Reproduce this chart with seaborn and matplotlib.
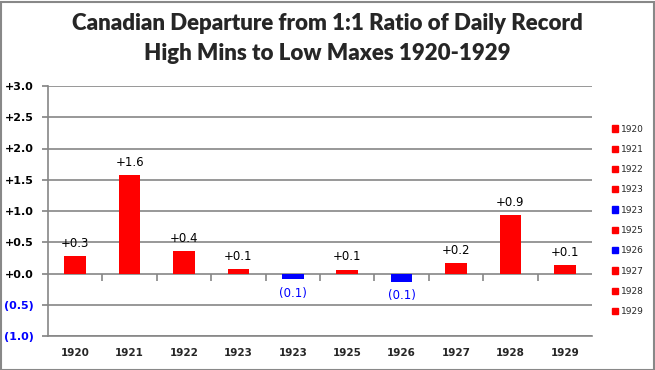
import matplotlib
matplotlib.use("Agg")
import matplotlib.pyplot as plt
from matplotlib.patches import Patch
import seaborn as sns
import numpy as np

years = ["1920", "1921", "1922", "1923", "1923", "1925", "1926", "1927", "1928", "1929"]
values = [0.28, 1.57, 0.36, 0.07, -0.09, 0.06, -0.13, 0.17, 0.94, 0.13]
value_labels = ["+0.3", "+1.6", "+0.4", "+0.1", "(0.1)", "+0.1", "(0.1)", "+0.2", "+0.9", "+0.1"]
yticks = [-1.0, -0.5, 0.0, 0.5, 1.0, 1.5, 2.0, 2.5, 3.0]
ytick_labels = ["(1.0)", "(0.5)", "+0.0", "+0.5", "+1.0", "+1.5", "+2.0", "+2.5", "+3.0"]

RED = "#FF0000"
BLUE = "#0000FF"
GRID = "#868686"
colors = [RED if v >= 0 else BLUE for v in values]

sns.set_theme(style="white")
plt.rcParams['font.family'] = ['DejaVu Sans']

fig = plt.figure(figsize=(6.55, 3.70), dpi=100)
ax = fig.add_axes([48/655, 34/370, 544/655, 250/370])

idx = [str(i) for i in range(len(values))]
sns.barplot(x=idx, y=values, hue=idx, palette=colors, legend=False,
            width=0.4, saturation=1, ax=ax, order=idx, linewidth=0)

ax.set_ylim(-1.0, 3.0)
ax.set_xlim(-0.5, len(values) - 0.5)
ax.set_yticks(yticks)
ax.set_yticklabels(ytick_labels)
for t, v in zip(ax.get_yticklabels(), yticks):
    t.set_fontweight("bold")
    t.set_fontsize(8)
    t.set_color(BLUE if v < 0 else "black")
ax.yaxis.grid(True, color=GRID, linewidth=1.2)
ax.set_axisbelow(True)
ax.tick_params(axis="y", length=4, color=GRID, pad=6, left=True)
ax.tick_params(axis="x", length=0, pad=9)
ax.set_xticks(range(len(values)))
ax.set_xticklabels(years, fontsize=7.5, fontweight="bold")
ax.set_xlabel("")
ax.set_ylabel("")
for s in ["top", "right"]:
    ax.spines[s].set_visible(False)
ax.spines["left"].set_color(GRID)
ax.spines["left"].set_linewidth(1.2)
ax.spines["bottom"].set_color(GRID)
ax.spines["bottom"].set_linewidth(1.2)

# tick marks on the zero line at category boundaries
sec = ax.secondary_xaxis(0.25)
sec.set_xticks(np.arange(0.5, len(values) - 0.5, 1.0))
sec.set_xticklabels([])
sec.tick_params(axis="x", length=5, color=GRID, width=1.2, direction="out")
sec.spines["bottom"].set_visible(False)

for i, (v, lab) in enumerate(zip(values, value_labels)):
    if v >= 0:
        ax.text(i, v + 0.1, lab, ha="center", va="bottom", fontsize=8.5, color="black")
    else:
        ax.text(i, v - 0.12, lab, ha="center", va="top", fontsize=8.5, color=BLUE)

handles = [Patch(facecolor=c, edgecolor=c) for c in colors]
leg = fig.legend(handles, years, loc="upper left", bbox_to_anchor=(608/655, 1 - 121/370),
                 frameon=False, fontsize=6.5, handlelength=0.7, handleheight=0.7,
                 handletextpad=0.3, labelspacing=1.25, borderaxespad=0)

fig.text(0.5, 1 - 13/370, "Canadian Departure from 1:1 Ratio of Daily Record\nHigh Mins to Low Maxes 1920-1929",
         ha="center", va="top", fontsize=16, fontweight="heavy", family="Lato", linespacing=1.5)

fig.patches.append(plt.Rectangle((0.5/655, 0.5/370), 653/655, 368/370, transform=fig.transFigure,
                                 fill=False, edgecolor="#888888", linewidth=1.5))

fig.savefig("out.png", dpi=100)
